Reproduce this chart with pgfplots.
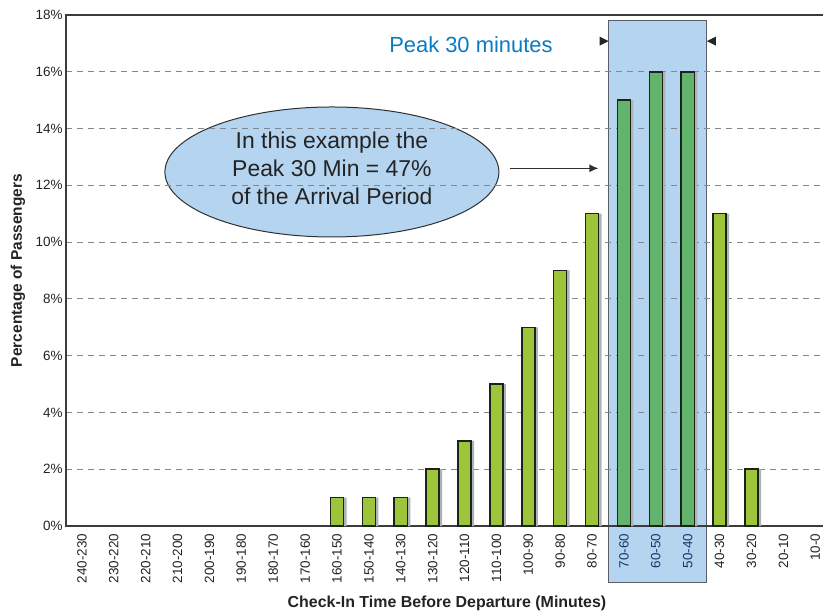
\documentclass[border=0pt]{standalone}
\usepackage{pgfplots}
\pgfplotsset{compat=1.18}
\usepackage{fontspec}
\setmainfont{Liberation Sans}
\usetikzlibrary{arrows.meta}
\definecolor{limebar}{RGB}{158,196,58}
\definecolor{peakbar}{RGB}{98,180,108}
\definecolor{baredge}{RGB}{25,35,25}
\definecolor{boxfill}{RGB}{180,212,240}
\definecolor{boxedge}{RGB}{90,95,105}
\definecolor{gridc}{RGB}{128,136,146}
\definecolor{axisc}{RGB}{60,60,60}
\definecolor{peakblue}{RGB}{10,122,196}
\definecolor{labnavy}{RGB}{25,55,110}
\definecolor{txt}{RGB}{35,35,35}
\definecolor{shadow}{RGB}{175,178,182}
\begin{document}
\begin{tikzpicture}
\begin{axis}[
  at={(0,0)}, anchor=south west,
  scale only axis, width=762bp, height=511bp,
  xmin=-0.5, xmax=23.4, ymin=0, ymax=18,
  set layers, clip=false,
  ybar, bar width=0.41,
  ytick={0,2,...,18},
  yticklabels={0\%,2\%,4\%,6\%,8\%,10\%,12\%,14\%,16\%,18\%},
  xtick={0,...,23},
  xticklabels={240-230,230-220,220-210,210-200,200-190,190-180,180-170,170-160,160-150,150-140,140-130,130-120,120-110,110-100,100-90,90-80,80-70,\textcolor{labnavy}{70-60},\textcolor{labnavy}{60-50},\textcolor{labnavy}{50-40},40-30,30-20,20-10,10-0},
  x tick label style={rotate=90, anchor=east, font=\fontsize{13.5}{13.5}\selectfont, text=txt},
  y tick label style={font=\fontsize{13.5}{13.5}\selectfont, text=txt},
  tick style={draw=none},
  ymajorgrids,
  major grid style={gridc, line width=1.2bp, dash pattern=on 6bp off 5bp},
  axis line style={axisc, line width=2bp},
  xlabel={Check-In Time Before Departure (Minutes)},
  ylabel={Percentage of Passengers},
  every axis x label/.style={at={(rel axis cs:0.5,0)}, yshift=-77bp, anchor=center, font=\bfseries\fontsize{16}{16}\selectfont, text=txt},
  every axis y label/.style={at={(rel axis cs:0,0.5)}, xshift=-48bp, rotate=90, anchor=center, font=\bfseries\fontsize{15.5}{15.5}\selectfont, text=txt},
]
\begin{pgfonlayer}{axis background}
  \fill[boxfill] (axis cs:16.52,-2) rectangle (axis cs:19.6,17.82);
  \draw[boxedge, line width=1bp] (axis cs:16.52,-2) rectangle (axis cs:19.6,17.82);
  \draw[fill=boxfill, draw=axisc!80!black, line width=1bp] (axis cs:7.84,12.47) ellipse [x radius=167bp, y radius=65bp];
\end{pgfonlayer}
% shadows
\addplot[fill=shadow, draw=none, bar shift=3bp] coordinates {
 (8,1) (9,1) (10,1) (11,2) (12,3) (13,5) (14,7) (15,9) (16,11) (17,15) (18,16) (19,16) (20,11) (21,2)};
% bars outside the peak window
\addplot[fill=limebar, draw=baredge, line width=1.5bp, bar shift=0pt] coordinates {
 (8,1) (9,1) (10,1) (11,2) (12,3) (13,5) (14,7) (15,9) (16,11) (20,11) (21,2)};
% bars in the peak window
\addplot[fill=peakbar, draw=baredge, line width=1.5bp, bar shift=0pt] coordinates {
 (17,15) (18,16) (19,16)};
% annotations
\node[text=txt, align=center, font=\fontsize{23}{28.5}\selectfont] at (axis cs:7.84,12.6)
  {In this example the\\Peak 30 Min = 47\%\\of the Arrival Period};
\draw[-{Latex[length=9bp,width=8bp]}, axisc!80!black, line width=1.2bp] (axis cs:13.42,12.6) -- (axis cs:16.2,12.6);
\node[text=peakblue, font=\fontsize{22}{22}\selectfont] at (axis cs:12.2,16.95) {Peak 30 minutes};
\coordinate (L) at (axis cs:16.52,17.08);
\coordinate (R) at (axis cs:19.6,17.08);
\fill[black!85] (L) -- ([xshift=-9bp,yshift=4.5bp]L) -- ([xshift=-9bp,yshift=-4.5bp]L) -- cycle;
\fill[black!85] (R) -- ([xshift=9bp,yshift=4.5bp]R) -- ([xshift=9bp,yshift=-4.5bp]R) -- cycle;
\end{axis}
\pgfresetboundingbox
\path[use as bounding box] (-66bp,-87bp) rectangle (757bp,526bp);
\end{tikzpicture}
\end{document}
